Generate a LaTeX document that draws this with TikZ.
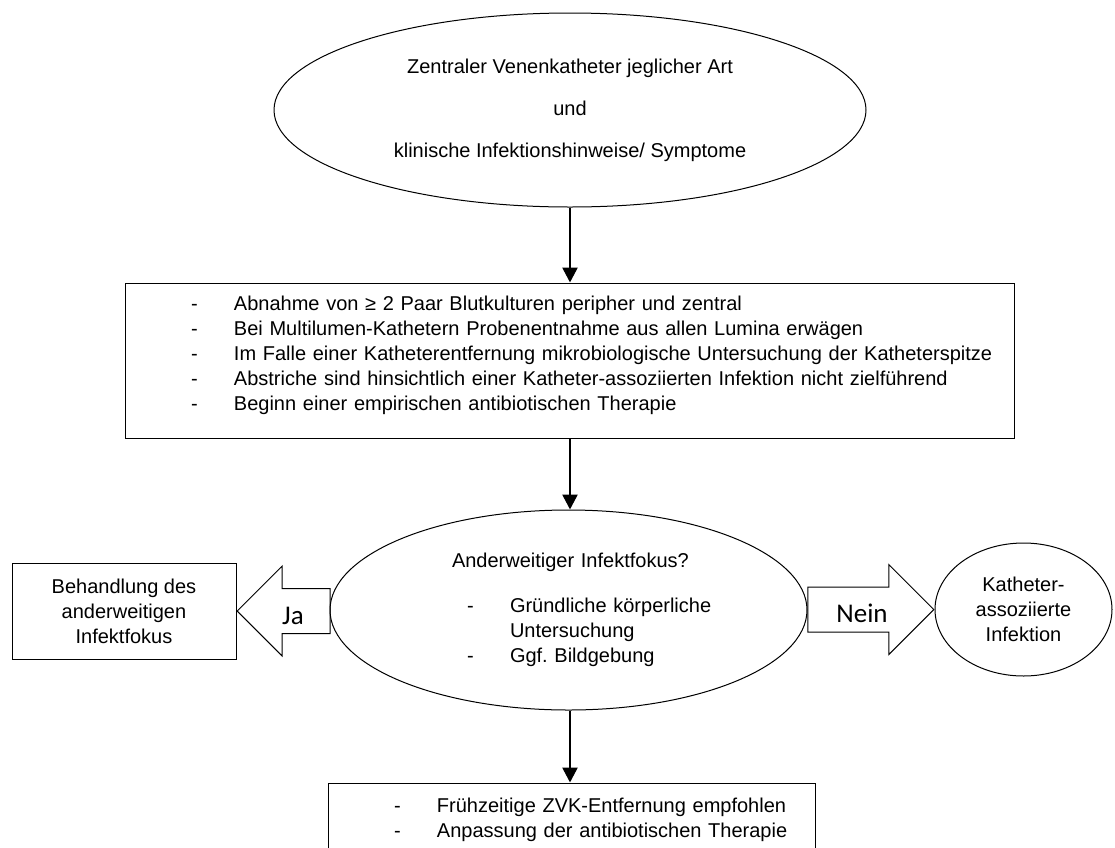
\documentclass[tikz,border=0pt]{standalone}
\usepackage{fontspec}
\setmainfont{Liberation Sans}
\newfontfamily\arrowfont{Carlito}
\usetikzlibrary{positioning, shapes.geometric, shapes.arrows, arrows.meta}
\newcommand\dashitem{\makebox[21.5pt][l]{-}}
\newcommand\boxitem{\hspace*{33pt}\dashitem}
\frenchspacing

\begin{document}
\begin{tikzpicture}[x=0.5pt, y=-0.5pt,
    every node/.style={font=\fontsize{10}{12.5}\selectfont, line width=0.5pt},
    oval/.style={draw, ellipse, inner sep=0pt},
    box/.style={draw, rectangle, inner sep=0pt},
    bigarrow/.style={draw, single arrow, inner xsep=0pt, inner ysep=11pt, minimum width=44.5pt, single arrow head extend=11.25pt},
    arrlabel/.style={font=\arrowfont\fontsize{13.5}{16}\selectfont},
    flow/.style={line width=1.3pt, -{Triangle[width=7.5pt,length=7.5pt]}}]
    \useasboundingbox[fill=white] (0,0) rectangle (1115,847);
    \node[oval, minimum width=296pt, minimum height=97pt, align=center, font=\fontsize{10}{21}\selectfont] (kath) at (570,110)
        {Zentraler Venenkatheter jeglicher Art\\und\\klinische Infektionshinweise/ Symptome};
    \node[box, minimum width=444.5pt, minimum height=77.5pt, text width=444.5pt, align=left] (diag) at (569.5,360.5)
        {\boxitem Abnahme von ≥ 2 Paar Blutkulturen peripher und zentral\\
         \boxitem Bei Multilumen-Kathetern Probenentnahme aus allen Lumina erwägen\\
         \boxitem Im Falle einer Katheterentfernung mikrobiologische Untersuchung der Katheterspitze\\
         \boxitem Abstriche sind hinsichtlich einer Katheter-assoziierten Infektion nicht zielführend\\
         \boxitem Beginn einer empirischen antibiotischen Therapie\\[-5pt]\mbox{}};
    \node[oval, minimum width=238.5pt, minimum height=100pt, text width=150pt, align=left] (fokus) at (568.5,610)
        {\hspace*{16.75pt}Anderweitiger Infektfokus?\\[10pt]
         \hspace*{24.25pt}\dashitem Gründliche körperliche\\
         \hspace*{45.75pt}Untersuchung\\
         \hspace*{24.25pt}\dashitem Ggf. Bildgebung};
    \node[box, minimum width=112pt, minimum height=48pt, align=center] (anderw) at (124,611)
        {Behandlung des\\anderweitigen\\Infektfokus};
    \node[oval, minimum width=88.5pt, minimum height=66.5pt, align=center] (kabsi) at (1023.5,609.5)
        {Katheter-\\assoziierte\\Infektion};
    \node[bigarrow, minimum height=46.5pt, shape border rotate=180, anchor=tip] (jaarrow) at (anderw.east) {};
    \node[bigarrow, minimum height=63pt, anchor=tip] (neinarrow) at (kabsi.west) {};
    \node[arrlabel] (ja) at (293,616) {Ja};
    \node[arrlabel] (nein) at (862,613) {Nein};
    \node[box, minimum width=243.5pt, minimum height=37pt, text width=243.5pt, align=left] (ende) at (571.5,820)
        {\boxitem Frühzeitige ZVK-Entfernung empfohlen\\
         \boxitem Anpassung der antibiotischen Therapie};
    \draw[flow] (kath.south) -- (kath.south |- diag.north);
    \draw[flow] (kath.south |- diag.south) -- (kath.south |- fokus.north);
    \draw[flow] (kath.south |- fokus.south) -- (kath.south |- ende.north);
\end{tikzpicture}
\end{document}
